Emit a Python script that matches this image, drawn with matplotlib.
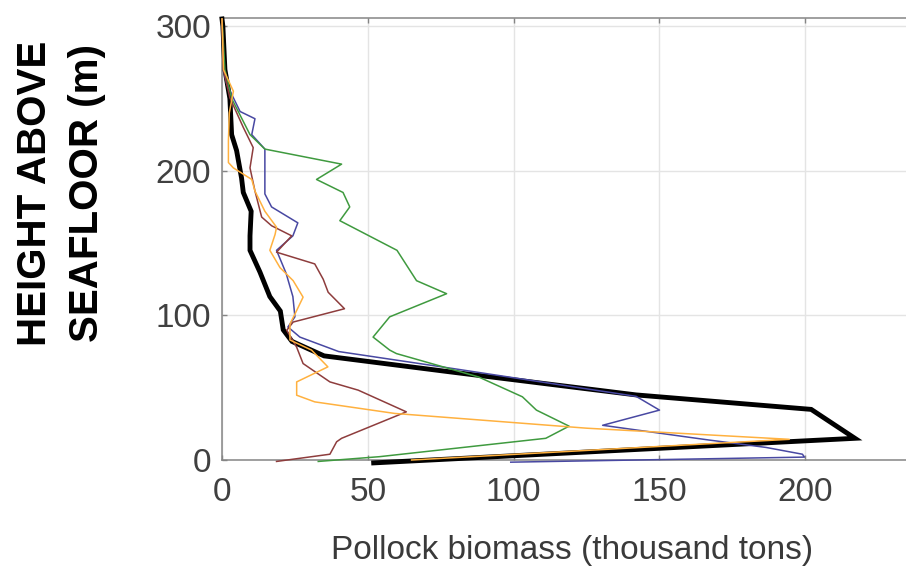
import matplotlib
matplotlib.use("Agg")
import matplotlib.pyplot as plt

# ---- data (height above seafloor in m, biomass in thousand tons) ----
black_h = [305, 300, 270, 250, 225, 214, 195, 185, 172, 155, 145, 130, 113, 103, 90, 82, 72, 61, 45, 35, 15, -2]
black_x = [0, 0.3, 1, 2.7, 3.3, 5, 6.7, 7.3, 10, 9.6, 9.6, 13, 16.4, 20, 21, 24, 35, 78, 142, 202, 217, 52]

blue_h = [305, 270, 260, 241, 236, 225, 215, 184, 175, 164, 155, 145, 129, 113, 99, 92, 85, 75, 63, 44, 34.5, 24, 13.8, 8.7, 4, 2, -1.5]
blue_x = [0, 0.5, 1.6, 6.2, 11.3, 10.2, 14.7, 14.7, 17, 26, 24.3, 18.7, 22, 24.3, 25, 22.6, 26.7, 40, 80, 142, 150, 130.5, 167, 186.5, 199, 199.7, 99]

green_h = [305, 270, 250, 225, 215, 204.6, 194, 185, 175, 165.5, 145, 124, 115, 99, 85, 76, 73.6, 57.4, 43.7, 34.5, 23.4, 15, 2.3, -1]
green_x = [0, 1, 3.3, 9.6, 14.7, 41, 32.4, 41.5, 43.8, 40.4, 60, 66.7, 77, 57.5, 51.8, 57.5, 59.8, 88, 103, 107.8, 119, 111, 54, 33]

orange_h = [305, 270, 255, 240, 220.7, 205.7, 202, 194, 186, 172, 161, 156, 145, 133, 124, 112.6, 103.4, 94, 83, 76, 64.4, 54, 44.8, 40.2, 32.2, 22, 14.3, 0]
orange_x = [0, 0.5, 3.9, 2.5, 2.2, 2.2, 3.9, 10.2, 11.3, 14.7, 18.7, 18.2, 16.4, 19.9, 24.4, 27.8, 25.6, 23.3, 23.3, 30.7, 36.3, 25.6, 25.6, 31.8, 59.2, 125, 194.5, 65]

brown_h = [305, 270, 250.5, 230, 216, 202, 186, 168, 162, 155, 143.7, 135.6, 125, 116, 104.6, 95.4, 89.7, 78, 66.7, 54, 48.3, 33.3, 15, 12.6, 4, -1]
brown_x = [0, 0.5, 2.7, 7.3, 10.7, 9.6, 11.3, 13.6, 17, 23.9, 18.7, 31.8, 34.7, 36.4, 42, 24.4, 22.2, 25.6, 27.8, 37, 46.7, 63.2, 41, 39.3, 37, 18.7]

xticks = [0, 50, 100, 150, 200]
yticks = [0, 100, 200, 300]
xlabel = "Pollock biomass (thousand tons)"
ylabel = "HEIGHT ABOVE\nSEAFLOOR (m)"

plt.rcParams['font.family'] = ['Liberation Sans', 'DejaVu Sans']

fig = plt.figure(figsize=(9.06, 5.71), dpi=100)
ax = fig.add_axes([222/906, 111/571, 700/906, 442.5/571])

ax.plot(black_x, black_h, color='black', lw=3.5, zorder=3, clip_on=False, solid_joinstyle='miter')
ax.plot(blue_x, blue_h, color='#4848a2', lw=1.1, zorder=4, clip_on=False)
ax.plot(green_x, green_h, color='#3f9a3f', lw=1.1, zorder=4, clip_on=False)
ax.plot(brown_x, brown_h, color='#8e3d3d', lw=1.1, zorder=4, clip_on=False)
ax.plot(orange_x, orange_h, color='#ffb13f', lw=1.1, zorder=5, clip_on=False)

ax.set_xlim(0, 240)
ax.set_ylim(0, 306)
ax.set_xticks(xticks)
ax.set_yticks(yticks)
ax.grid(True, color='#e4e4e4', lw=1.0)
ax.set_axisbelow(True)

for s in ['top', 'left', 'bottom', 'right']:
    ax.spines[s].set_color('#858585')
    ax.spines[s].set_linewidth(1.1)

ax.tick_params(direction='in', length=3.5, width=1.0, color='#858585',
               top=True, right=True, labelsize=24, labelcolor='#404040')
ax.tick_params(axis='x', pad=12)
ax.tick_params(axis='y', pad=8)

ax.set_xlabel(xlabel, fontsize=24, color='#3a3a3a', labelpad=20)

fig.text(61/906, 1 - 193/571, ylabel, rotation=90, ha='center', va='center',
         multialignment='center', fontsize=29, fontweight='bold',
         linespacing=1.45, color='black')

fig.savefig('out.png', dpi=100)
